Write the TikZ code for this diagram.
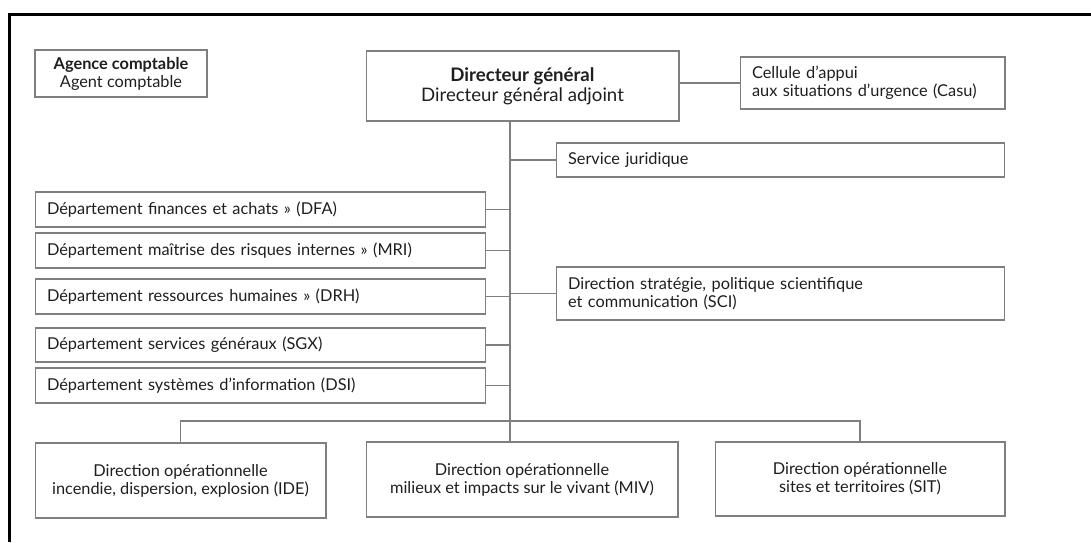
\documentclass[tikz,border=0pt]{standalone}
\usepackage{fontspec}
\setmainfont{Lato}
\usepackage{tikz}
\usetikzlibrary{positioning}

\definecolor{boxline}{HTML}{7F7F7F}
\definecolor{boxtext}{HTML}{1E1E1E}

\begin{document}
\begin{tikzpicture}[
        x=0.02cm, y=-0.02cm,
        font=\fontsize{9.3}{10.2}\selectfont,
        box/.style={draw=boxline, line width=0.6pt, text=boxtext, inner ysep=0pt, minimum height=0.7cm},
        leftbox/.style={box, align=left, inner xsep=0.24cm, text width=#1},
        midbox/.style={box, align=center, minimum width=#1},
        link/.style={draw=boxline, line width=0.6pt}
    ]
        \useasboundingbox (0,0) rectangle (1091,542);
        \draw[line width=1.2pt] (1091,14.5) -- (9.5,14.5) -- (9.5,542);

        % top row
        \node[midbox=3.44cm, minimum height=0.94cm] (agence) at (121,73.5) {\textbf{Agence comptable}\\Agent comptable};
        \node[midbox=6.26cm, minimum height=1.4cm, font=\fontsize{10.6}{11.2}\selectfont] (dg) at (522.5,86) {\textbf{Directeur général}\\Directeur général adjoint};
        \node[leftbox=4.82cm, minimum height=1.04cm] (casu) at (872.5,83) {Cellule d’appui\\aux situations d’urgence (Casu)};

        % right column
        \node[leftbox=8.5cm, minimum height=0.68cm] (juri) at (780.5,160) {Service juridique};
        \node[leftbox=8.5cm, minimum height=1.06cm] (sci) at (780.5,293.5) {Direction stratégie, politique scientifique\\et communication (SCI)};

        % left column
        \node[leftbox=8.54cm] (dfa) at (260.5,209.5) {Département finances et achats » (DFA)};
        \node[leftbox=8.54cm] (mri) at (260.5,250.5) {Département maîtrise des risques internes » (MRI)};
        \node[leftbox=8.54cm] (drh) at (260.5,296.5) {Département ressources humaines » (DRH)};
        \node[leftbox=8.54cm, minimum height=0.68cm] (sgx) at (260.5,345) {Département services généraux (SGX)};
        \node[leftbox=8.54cm] (dsi) at (260.5,385.5) {Département systèmes d’information (DSI)};

        % bottom row
        \node[midbox=5.82cm, minimum height=1.5cm] (ide) at (180.5,480.5) {Direction opérationnelle\\incendie, dispersion, explosion (IDE)};
        \node[midbox=6.24cm, minimum height=1.5cm] (miv) at (522,479.5) {Direction opérationnelle\\milieux et impacts sur le vivant (MIV)};
        \node[midbox=5.8cm, minimum height=1.48cm] (sit) at (860,479) {Direction opérationnelle\\sites et territoires (SIT)};

        \coordinate (trunk) at (510,0);
        \coordinate (bus) at (0,421);

        \draw[link] (dg.south -| trunk) -- (miv.north -| trunk);
        \draw[link] (casu.west -| dg.east) -- (casu.west);
        \draw[link] (juri.west -| trunk) -- (juri.west);
        \draw[link] (sci.west -| trunk) -- (sci.west);
        \draw[link] (dfa.east) -- (dfa.east -| trunk);
        \draw[link] (mri.east) -- (mri.east -| trunk);
        \draw[link] (drh.east) -- (drh.east -| trunk);
        \draw[link] (sgx.east) -- (sgx.east -| trunk);
        \draw[link] (dsi.east) -- (dsi.east -| trunk);
        \draw[link] (ide.north) -- (ide.north |- bus) -- (sit.north |- bus) -- (sit.north);
    \end{tikzpicture}
\end{document}
